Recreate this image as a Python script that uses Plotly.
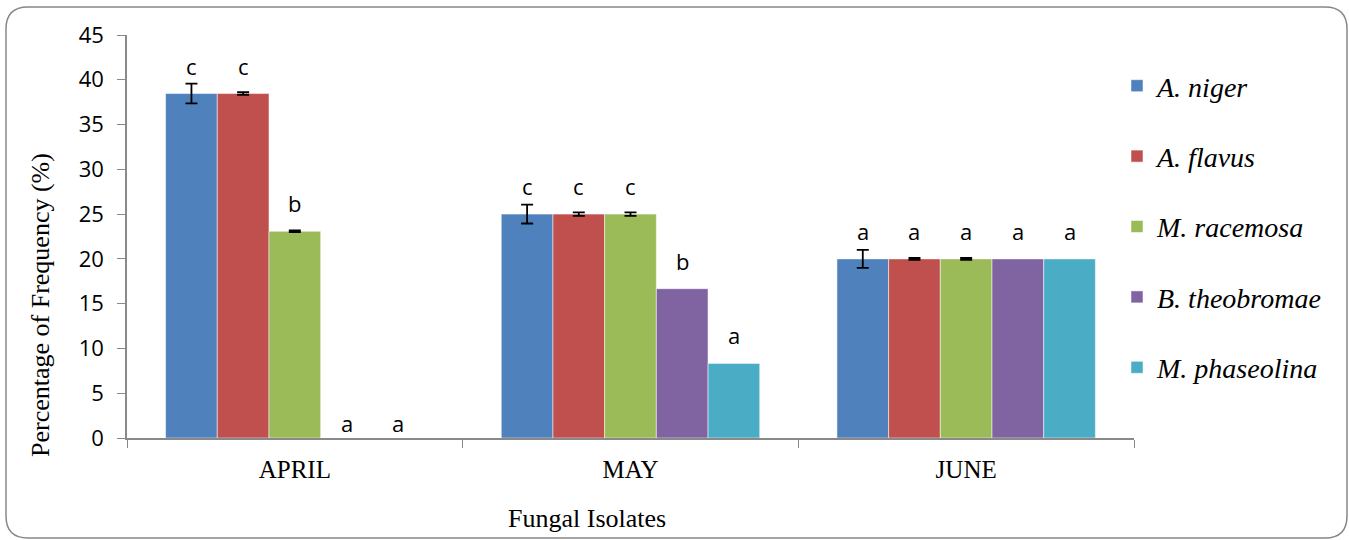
import plotly.graph_objects as go

months = ["APRIL", "MAY", "JUNE"]
species = ["A. niger", "A. flavus", "M. racemosa", "B. theobromae", "M. phaseolina"]
colors = ["#4F81BD", "#C0504D", "#9BBB59", "#8064A2", "#4BACC6"]

values = {
    "A. niger": [38.46, 25.0, 20.0],
    "A. flavus": [38.46, 25.0, 20.0],
    "M. racemosa": [23.08, 25.0, 20.0],
    "B. theobromae": [0.0, 16.67, 20.0],
    "M. phaseolina": [0.0, 8.33, 20.0],
}
errors = {
    "A. niger": [1.1, 1.05, 1.0],
    "A. flavus": [0.15, 0.2, 0.1],
    "M. racemosa": [0.1, 0.2, 0.1],
    "B. theobromae": [0.0, 0.0, 0.0],
    "M. phaseolina": [0.0, 0.0, 0.0],
}
letters = {
    "A. niger": ["c", "c", "a"],
    "A. flavus": ["c", "c", "a"],
    "M. racemosa": ["b", "c", "a"],
    "B. theobromae": ["a", "b", "a"],
    "M. phaseolina": ["a", "a", "a"],
}

W, H = 1349, 540
L, R, T, B = 127, 215, 35, 102
pw, ph = W - L - R, H - T - B

SERIF = "Liberation Serif"
SANS = "Open Sans"

fig = go.Figure()
for i, sp in enumerate(species):
    has_err = any(e > 0 for e in errors[sp])
    fig.add_trace(go.Bar(
        name=sp, x=months, y=values[sp],
        marker=dict(color=colors[i], line=dict(color="rgba(255,255,255,0.5)", width=1)),
        error_y=dict(type="data", array=errors[sp], visible=has_err,
                     color="black", thickness=1.8, width=6),
        legendgroup=sp,
    ))

# letter annotations above bars
nser = len(species)
bargap = 0.23
group_w = (1 - bargap)
bar_w = group_w / nser
for i, sp in enumerate(species):
    for j, m in enumerate(months):
        xpos = j - group_w / 2 + bar_w * (i + 0.5)
        v = values[sp][j]
        fig.add_annotation(
            x=xpos, y=v, xref="x", yref="y", text=letters[sp][j],
            showarrow=False, yshift=(28 if v > 0 else 15),
            font=dict(family=SANS, size=22, color="black"),
        )

def px2paper(x, y):
    return (x - L) / pw, (H - B - y) / ph

# y-axis title (placed like the original, below the plot centre)
ax, ay = px2paper(40, 305)
fig.add_annotation(x=ax, y=ay, xref="paper", yref="paper",
                   text="Percentage of Frequency (%)", textangle=-90,
                   showarrow=False, xanchor="center", yanchor="middle",
                   font=dict(family=SERIF, size=26, color="black"))

# x-axis title
tx, ty = px2paper(587, 518)
fig.add_annotation(x=tx, y=ty, xref="paper", yref="paper",
                   text="Fungal Isolates", showarrow=False,
                   xanchor="center", yanchor="middle",
                   font=dict(family=SERIF, size=26, color="black"))

# rounded border
x0, y0, x1, y1, r = 6, 7, 1347, 538, 22
def P(x, y):
    a, b = px2paper(x, y)
    return f"{a:.5f},{b:.5f}"
path = (f"M {P(x0 + r, y0)} L {P(x1 - r, y0)} Q {P(x1, y0)} {P(x1, y0 + r)} "
        f"L {P(x1, y1 - r)} Q {P(x1, y1)} {P(x1 - r, y1)} "
        f"L {P(x0 + r, y1)} Q {P(x0, y1)} {P(x0, y1 - r)} "
        f"L {P(x0, y0 + r)} Q {P(x0, y0)} {P(x0 + r, y0)} Z")
fig.add_shape(type="path", path=path, xref="paper", yref="paper",
              line=dict(color="#888888", width=1.5), layer="below")

lx, ly = px2paper(1117, 61)
fig.update_layout(
    width=W, height=H,
    margin=dict(l=L, r=R, t=T, b=B, autoexpand=False),
    plot_bgcolor="white", paper_bgcolor="white",
    barmode="group", bargap=bargap, bargroupgap=0,
    showlegend=True,
    legend=dict(x=lx, y=ly, xanchor="left", yanchor="top",
                font=dict(family=SERIF, size=28, color="black", style="italic"),
                tracegroupgap=31, traceorder="grouped", itemwidth=30,
                bgcolor="rgba(0,0,0,0)"),
    xaxis=dict(
        showline=True, linecolor="#898989", linewidth=1.5,
        ticks="outside", tickson="boundaries", ticklen=8, tickcolor="#898989",
        tickfont=dict(family=SERIF, size=25, color="black"),
        ticklabelstandoff=8,
        showgrid=False, range=[-0.5, 2.5],
    ),
    yaxis=dict(
        range=[0, 45], dtick=5, showline=True, linecolor="#898989", linewidth=1.5,
        ticks="outside", ticklen=8, tickcolor="#898989",
        tickfont=dict(family=SANS, size=22, color="black"),
        showgrid=False, zeroline=False, ticklabelstandoff=9,
    ),
)

fig.write_html("out.html", config={"displayModeBar": False},
               post_script="document.body.style.margin='0px';")
